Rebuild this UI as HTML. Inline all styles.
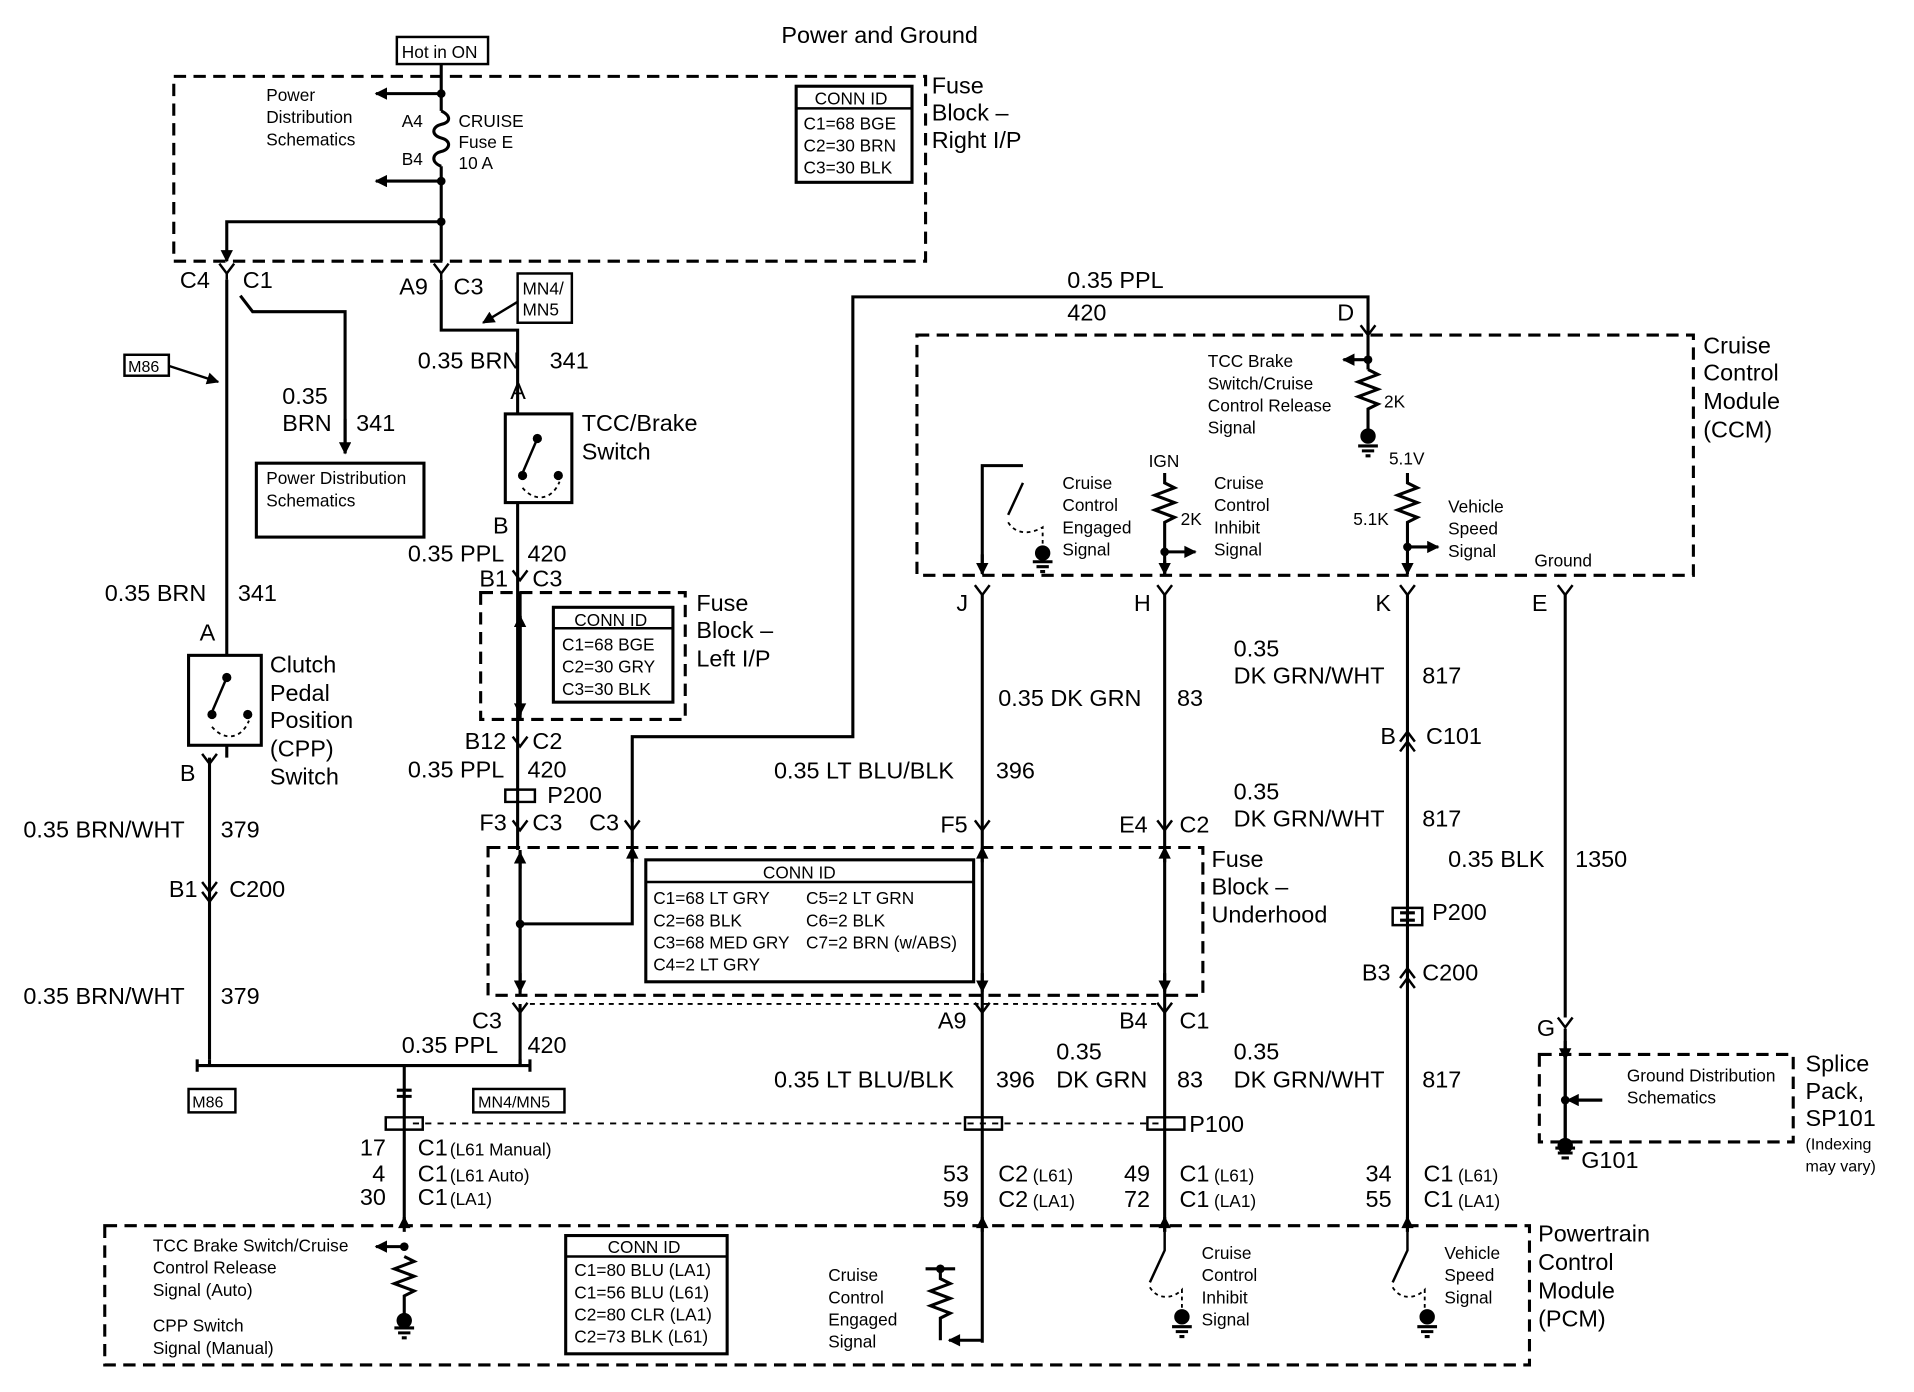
<!DOCTYPE html>
<html><head><meta charset="utf-8"><style>
html,body{margin:0;padding:0;background:#fff}
svg{display:block}
text{font-family:"Liberation Sans",Arial,sans-serif;fill:#000}
.b{font-size:19px}.s{font-size:14px}.t{font-size:13px}
</style></head><body>
<svg width="1914" height="1392" viewBox="0 0 1553 1130" preserveAspectRatio="none" xmlns="http://www.w3.org/2000/svg">
<defs>
<marker id="a" viewBox="0 0 10 10" refX="9" refY="5" markerUnits="userSpaceOnUse" markerWidth="11" markerHeight="10" orient="auto"><path d="M0,0L10,5L0,10z"/></marker>
</defs>
<g fill="none" stroke="#000" stroke-width="2.5">
<g stroke-dasharray="10,6">
<rect x="141" y="62" width="610" height="150"/>
<rect x="390" y="481" width="166" height="103"/>
<rect x="396" y="688" width="580" height="120"/>
<rect x="744" y="272" width="630" height="195"/>
<rect x="1249" y="856" width="206" height="71"/>
<rect x="85" y="995" width="1156" height="113"/>
<path d="M430 815 L940 815" stroke-width="1.5" stroke-dasharray="4,4"/>
<path d="M335 912 L940 912" stroke-width="1.5" stroke-dasharray="5,5"/>
</g>
<rect x="322" y="30" width="74" height="22" stroke-width="2"/>
<rect x="646" y="70" width="94" height="78"/>
<rect x="208" y="376" width="136" height="60"/>
<rect x="410" y="336" width="54" height="72"/>
<rect x="153" y="532" width="59" height="73"/>
<rect x="449" y="493" width="97" height="77"/>
<rect x="524" y="698" width="266" height="99"/>
<rect x="459" y="1003" width="131" height="96"/>
<rect x="420" y="222" width="44" height="40" stroke-width="2"/>
<rect x="101" y="288" width="36" height="17" stroke-width="2"/>
<rect x="153" y="884" width="38" height="19" stroke-width="2"/>
<rect x="384" y="884" width="74" height="19" stroke-width="2"/>
<path d="M646 88H740M449 510H546M524 716H790M459 1020H590" stroke-width="2"/>
<path d="M358 52V90M358 135V212M358 227V268H420V335"/>
<path d="M358 90c8 4 8 9 0 11s-8 9 0 11 8 9 0 11-8 9 0 12"/>
<path d="M358 76H305" marker-end="url(#a)"/>
<path d="M358 147H305" marker-end="url(#a)"/>
<path d="M358 180H184V212" marker-end="url(#a)"/>
<path d="M184 227V532M195 240l10 13H280V368" />
<path d="M280 340V368" marker-end="url(#a)"/>
<path d="M137 297L177 310" stroke-width="2" marker-end="url(#a)"/>
<path d="M420 245L392 262" stroke-width="2" marker-end="url(#a)"/>
<path d="M178 214l6 8 6-8M184 222v5M352 214l6 8 6-8M358 222v5M416 463l6 8 6-8M416 598l6 8 6-8M416 666l6 8 6-8M507 666l6 8 6-8M791 666l6 8 6-8M939 666l6 8 6-8M416 814l6 8 6-8M791 814l6 8 6-8M939 814l6 8 6-8M1104 264l6 8 6-8M791 475l6 8 6-8M939 475l6 8 6-8M1136 475l6 8 6-8M1264 475l6 8 6-8M1264 826l6 8 6-8M1136 602l6-8 6 8M1136 610l6-8 6 8M1136 794l6-8 6 8M1136 802l6-8 6 8M164 612l6 8 6-8M164 716l6 8 6-8M164 724l6 8 6-8" stroke-width="2"/>
<path d="M420 408V690M422 480V584M422 690V808M422 815V865"/>
<path d="M436 356l-12 28" stroke-width="2"/>
<path d="M424 396c10 12 24 10 30 -5" stroke-width="1.5" stroke-dasharray="3,3"/>
<circle cx="436" cy="356" r="2.5" fill="#000"/><circle cx="424" cy="386" r="2.5" fill="#000"/><circle cx="453" cy="386" r="2.5" fill="#000"/>
<path d="M184 605V615M170 615V860" />
<path d="M184 550l-12 28" stroke-width="2"/>
<path d="M172 590c10 12 24 10 30 -5" stroke-width="1.5" stroke-dasharray="3,3"/>
<circle cx="184" cy="550" r="2.5" fill="#000"/><circle cx="172" cy="580" r="2.5" fill="#000"/><circle cx="201" cy="580" r="2.5" fill="#000"/>
<path d="M422 500V580" marker-end="url(#a)"/>
<path d="M422 580V500" marker-end="url(#a)"/>
<path d="M513 690V598H692V241H1110V272"/>
<path d="M1110 262V300" />
<path d="M422 750H513V690M422 700V800M422 800V700" />
<path d="M422 790V805" marker-end="url(#a)"/>
<path d="M422 705V692" marker-end="url(#a)"/>
<path d="M513 700V688" marker-end="url(#a)"/>
<path d="M797 700V688" marker-end="url(#a)"/><path d="M797 790V805" marker-end="url(#a)"/>
<path d="M945 700V688" marker-end="url(#a)"/><path d="M945 790V805" marker-end="url(#a)"/>
<path d="M797 482V1090M945 482V1000M1142 482V1000M1270 482V826M1270 835V935"/>
<path d="M1110 292H1090" marker-end="url(#a)"/>
<path d="M1110 300l8 4-16 6 16 6-16 6 16 6-8 4V352"/>
<path d="M1102 362h16M1105 366h10M1108 370h4"/><circle cx="1110" cy="354" r="5" fill="#000"/>
<path d="M797 465V378H830" /><path d="M797 450V466" marker-end="url(#a)"/>
<path d="M830 392l-12 26" stroke-width="2"/><path d="M818 424c6 10 18 10 28 4V445" stroke-width="1.5" stroke-dasharray="3,3"/>
<path d="M838 456h16M841 460h10M844 464h4"/><circle cx="846" cy="449" r="5" fill="#000"/>
<path d="M945 384V392l8 4-16 6 16 6-16 6 16 6-8 4V466"/>
<path d="M945 448H970" marker-end="url(#a)"/><path d="M945 455V466" marker-end="url(#a)"/>
<path d="M1142 384V392l8 4-16 6 16 6-16 6 16 6-8 4V466"/>
<path d="M1142 444H1167" marker-end="url(#a)"/><path d="M1142 455V466" marker-end="url(#a)"/>
<path d="M1136 747h12M1136 741h12"/>
<path d="M1130 737h24v14h-24z" stroke-width="2"/>
<path d="M1270 850V930M1270 893H1300" /><path d="M1300 893H1272" marker-end="url(#a)"/>
<path d="M1262 932h16M1264 936h12M1267 940h6"/>
<circle cx="1270" cy="930" r="5" fill="#000"/>
<path d="M1270 845V860" marker-end="url(#a)"/>
<path d="M160 865H430M170 860v5M422 860v5M328 865V995"/>
<path d="M160 860v10M430 860v10M322 885h12M322 890h12"/>
<path d="M410 641h24v10h-24zM313 907h30v10h-30zM783 907h30v10h-30zM931 907h30v10h-30z" stroke-width="2"/>
<path d="M328 1012H305" marker-end="url(#a)"/>
<path d="M328 1020l8 4-16 6 16 6-16 6 16 6-8 4V1068"/>
<path d="M320 1078h16M323 1082h10M326 1086h4"/><circle cx="328" cy="1072" r="5" fill="#000"/>
<path d="M797 1000V988" marker-end="url(#a)"/>
<path d="M945 1000V988" marker-end="url(#a)"/><path d="M1142 1000V988" marker-end="url(#a)"/>
<path d="M328 1000V988" marker-end="url(#a)"/>
<path d="M797 1088H770" marker-end="url(#a)"/>
<path d="M751 1030H775M763 1030v8l8 4-16 6 16 6-16 6 16 6-8 4V1088"/>
<path d="M945 1000V1015l-12 26" stroke-width="2"/><path d="M933 1045c6 10 18 10 26 2V1065" stroke-width="1.5" stroke-dasharray="3,3"/>
<path d="M951 1077h16M954 1081h10M957 1085h4"/><circle cx="959" cy="1069" r="5" fill="#000"/>
<path d="M1142 1000V1015l-12 26" stroke-width="2"/><path d="M1130 1045c6 10 18 10 26 2V1065" stroke-width="1.5" stroke-dasharray="3,3"/>
<path d="M1150 1077h16M1153 1081h10M1156 1085h4"/><circle cx="1158" cy="1069" r="5" fill="#000"/>
</g>
<g fill="#000">
<circle cx="358" cy="76" r="3.5"/><circle cx="358" cy="147" r="3.5"/><circle cx="358" cy="180" r="3.5"/>
<circle cx="422" cy="750" r="3.5"/><circle cx="1110" cy="292" r="3.5"/><circle cx="945" cy="448" r="3.5"/><circle cx="1142" cy="444" r="3.5"/>
<circle cx="1270" cy="893" r="3.5"/><circle cx="328" cy="1012" r="3.5"/><circle cx="763" cy="1030" r="3.5"/>
</g>
<text x="634" y="35" class="b">Power and Ground</text>
<text x="326" y="47" class="s">Hot in ON</text>
<text x="756" y="76" class="b">Fuse</text><text x="756" y="98" class="b">Block –</text><text x="756" y="120" class="b">Right I/P</text>
<text x="216" y="82" class="s">Power</text><text x="216" y="100" class="s">Distribution</text><text x="216" y="118" class="s">Schematics</text>
<text x="326" y="103" class="s">A4</text><text x="326" y="134" class="s">B4</text>
<text x="372" y="103" class="s">CRUISE</text><text x="372" y="120" class="s">Fuse E</text><text x="372" y="137" class="s">10 A</text>
<text x="661" y="85" class="s">CONN ID</text><text x="652" y="105" class="s">C1=68 BGE</text><text x="652" y="123" class="s">C2=30 BRN</text><text x="652" y="141" class="s">C3=30 BLK</text>
<text x="146" y="234" class="b">C4</text><text x="197" y="234" class="b">C1</text>
<text x="324" y="239" class="b">A9</text><text x="368" y="239" class="b">C3</text>
<text x="424" y="239" class="s">MN4/</text><text x="424" y="256" class="s">MN5</text>
<text x="104" y="302" class="t">M86</text>
<text x="339" y="299" class="b">0.35 BRN</text><text x="446" y="299" class="b">341</text>
<text x="229" y="328" class="b">0.35</text><text x="229" y="350" class="b">BRN</text><text x="289" y="350" class="b">341</text>
<text x="414" y="324" class="b">A</text>
<text x="472" y="350" class="b">TCC/Brake</text><text x="472" y="373" class="b">Switch</text>
<text x="216" y="393" class="s">Power Distribution</text><text x="216" y="411" class="s">Schematics</text>
<text x="400" y="433" class="b">B</text>
<text x="331" y="456" class="b">0.35 PPL</text><text x="428" y="456" class="b">420</text>
<text x="389" y="476" class="b">B1</text><text x="432" y="476" class="b">C3</text>
<text x="85" y="488" class="b">0.35 BRN</text><text x="193" y="488" class="b">341</text>
<text x="565" y="496" class="b">Fuse</text><text x="565" y="518" class="b">Block –</text><text x="565" y="541" class="b">Left I/P</text>
<text x="466" y="508" class="s">CONN ID</text><text x="456" y="528" class="s">C1=68 BGE</text><text x="456" y="546" class="s">C2=30 GRY</text><text x="456" y="564" class="s">C3=30 BLK</text>
<text x="162" y="520" class="b">A</text>
<text x="219" y="546" class="b">Clutch</text><text x="219" y="569" class="b">Pedal</text><text x="219" y="591" class="b">Position</text><text x="219" y="614" class="b">(CPP)</text><text x="219" y="637" class="b">Switch</text>
<text x="146" y="634" class="b">B</text>
<text x="377" y="608" class="b">B12</text><text x="432" y="608" class="b">C2</text>
<text x="331" y="631" class="b">0.35 PPL</text><text x="428" y="631" class="b">420</text>
<text x="444" y="652" class="b">P200</text>
<text x="389" y="674" class="b">F3</text><text x="432" y="674" class="b">C3</text><text x="478" y="674" class="b">C3</text>
<text x="19" y="680" class="b">0.35 BRN/WHT</text><text x="179" y="680" class="b">379</text>
<text x="137" y="728" class="b">B1</text><text x="186" y="728" class="b">C200</text>
<text x="19" y="815" class="b">0.35 BRN/WHT</text><text x="179" y="815" class="b">379</text>
<text x="866" y="234" class="b">0.35 PPL</text><text x="866" y="260" class="b">420</text><text x="1085" y="260" class="b">D</text>
<text x="1382" y="287" class="b">Cruise</text><text x="1382" y="309" class="b">Control</text><text x="1382" y="332" class="b">Module</text><text x="1382" y="355" class="b">(CCM)</text>
<text x="980" y="298" class="s">TCC Brake</text><text x="980" y="316" class="s">Switch/Cruise</text><text x="980" y="334" class="s">Control Release</text><text x="980" y="352" class="s">Signal</text>
<text x="1123" y="331" class="s">2K</text>
<text x="932" y="379" class="s">IGN</text><text x="1127" y="377" class="s">5.1V</text>
<text x="862" y="397" class="s">Cruise</text><text x="862" y="415" class="s">Control</text><text x="862" y="433" class="s">Engaged</text><text x="862" y="451" class="s">Signal</text>
<text x="985" y="397" class="s">Cruise</text><text x="985" y="415" class="s">Control</text><text x="985" y="433" class="s">Inhibit</text><text x="985" y="451" class="s">Signal</text>
<text x="958" y="426" class="s">2K</text><text x="1098" y="426" class="s">5.1K</text>
<text x="1175" y="416" class="s">Vehicle</text><text x="1175" y="434" class="s">Speed</text><text x="1175" y="452" class="s">Signal</text>
<text x="1245" y="460" class="s">Ground</text>
<text x="776" y="496" class="b">J</text><text x="920" y="496" class="b">H</text><text x="1116" y="496" class="b">K</text><text x="1243" y="496" class="b">E</text>
<text x="1001" y="533" class="b">0.35</text><text x="1001" y="555" class="b">DK GRN/WHT</text><text x="1154" y="555" class="b">817</text>
<text x="810" y="573" class="b">0.35 DK GRN</text><text x="955" y="573" class="b">83</text>
<text x="1120" y="604" class="b">B</text><text x="1157" y="604" class="b">C101</text>
<text x="628" y="632" class="b">0.35 LT BLU/BLK</text><text x="808" y="632" class="b">396</text>
<text x="1001" y="649" class="b">0.35</text><text x="1001" y="671" class="b">DK GRN/WHT</text><text x="1154" y="671" class="b">817</text>
<text x="763" y="676" class="b">F5</text><text x="908" y="676" class="b">E4</text><text x="957" y="676" class="b">C2</text>
<text x="983" y="704" class="b">Fuse</text><text x="983" y="726" class="b">Block –</text><text x="983" y="749" class="b">Underhood</text>
<text x="1175" y="704" class="b">0.35 BLK</text><text x="1278" y="704" class="b">1350</text>
<text x="619" y="713" class="s">CONN ID</text>
<text x="530" y="734" class="s">C1=68 LT GRY</text><text x="654" y="734" class="s">C5=2 LT GRN</text>
<text x="530" y="752" class="s">C2=68 BLK</text><text x="654" y="752" class="s">C6=2 BLK</text>
<text x="530" y="770" class="s">C3=68 MED GRY</text><text x="654" y="770" class="s">C7=2 BRN (w/ABS)</text>
<text x="530" y="788" class="s">C4=2 LT GRY</text>
<text x="1162" y="747" class="b">P200</text>
<text x="1105" y="796" class="b">B3</text><text x="1154" y="796" class="b">C200</text>
<text x="383" y="835" class="b">C3</text><text x="761" y="835" class="b">A9</text><text x="908" y="835" class="b">B4</text><text x="957" y="835" class="b">C1</text>
<text x="1247" y="841" class="b">G</text>
<text x="326" y="855" class="b">0.35 PPL</text><text x="428" y="855" class="b">420</text>
<text x="857" y="860" class="b">0.35</text><text x="1001" y="860" class="b">0.35</text>
<text x="1465" y="870" class="b">Splice</text><text x="1465" y="892" class="b">Pack,</text><text x="1465" y="914" class="b">SP101</text>
<text x="1465" y="933" class="t">(Indexing</text><text x="1465" y="951" class="t">may vary)</text>
<text x="1320" y="878" class="s">Ground Distribution</text><text x="1320" y="896" class="s">Schematics</text>
<text x="628" y="883" class="b">0.35 LT BLU/BLK</text><text x="808" y="883" class="b">396</text>
<text x="857" y="883" class="b">DK GRN</text><text x="955" y="883" class="b">83</text>
<text x="1001" y="883" class="b">DK GRN/WHT</text><text x="1154" y="883" class="b">817</text>
<text x="156" y="899" class="t">M86</text><text x="388" y="899" class="t">MN4/MN5</text>
<text x="965" y="919" class="b">P100</text>
<text x="292" y="938" class="b">17</text><text x="339" y="938" class="b">C1</text><text x="365" y="938" class="s">(L61 Manual)</text>
<text x="302" y="959" class="b">4</text><text x="339" y="959" class="b">C1</text><text x="365" y="959" class="s">(L61 Auto)</text>
<text x="292" y="978" class="b">30</text><text x="339" y="978" class="b">C1</text><text x="365" y="978" class="s">(LA1)</text>
<text x="1283" y="948" class="b">G101</text>
<text x="765" y="959" class="b">53</text><text x="810" y="959" class="b">C2</text><text x="838" y="959" class="s">(L61)</text>
<text x="765" y="980" class="b">59</text><text x="810" y="980" class="b">C2</text><text x="838" y="980" class="s">(LA1)</text>
<text x="912" y="959" class="b">49</text><text x="957" y="959" class="b">C1</text><text x="985" y="959" class="s">(L61)</text>
<text x="912" y="980" class="b">72</text><text x="957" y="980" class="b">C1</text><text x="985" y="980" class="s">(LA1)</text>
<text x="1108" y="959" class="b">34</text><text x="1155" y="959" class="b">C1</text><text x="1183" y="959" class="s">(L61)</text>
<text x="1108" y="980" class="b">55</text><text x="1155" y="980" class="b">C1</text><text x="1183" y="980" class="s">(LA1)</text>
<text x="1248" y="1008" class="b">Powertrain</text><text x="1248" y="1031" class="b">Control</text><text x="1248" y="1054" class="b">Module</text><text x="1248" y="1077" class="b">(PCM)</text>
<text x="124" y="1016" class="s">TCC Brake Switch/Cruise</text><text x="124" y="1034" class="s">Control Release</text><text x="124" y="1052" class="s">Signal (Auto)</text>
<text x="124" y="1081" class="s">CPP Switch</text><text x="124" y="1099" class="s">Signal (Manual)</text>
<text x="493" y="1017" class="s">CONN ID</text><text x="466" y="1036" class="s">C1=80 BLU (LA1)</text><text x="466" y="1054" class="s">C1=56 BLU (L61)</text><text x="466" y="1072" class="s">C2=80 CLR (LA1)</text><text x="466" y="1090" class="s">C2=73 BLK (L61)</text>
<text x="672" y="1040" class="s">Cruise</text><text x="672" y="1058" class="s">Control</text><text x="672" y="1076" class="s">Engaged</text><text x="672" y="1094" class="s">Signal</text>
<text x="975" y="1022" class="s">Cruise</text><text x="975" y="1040" class="s">Control</text><text x="975" y="1058" class="s">Inhibit</text><text x="975" y="1076" class="s">Signal</text>
<text x="1172" y="1022" class="s">Vehicle</text><text x="1172" y="1040" class="s">Speed</text><text x="1172" y="1058" class="s">Signal</text>
</svg>
</body></html>
